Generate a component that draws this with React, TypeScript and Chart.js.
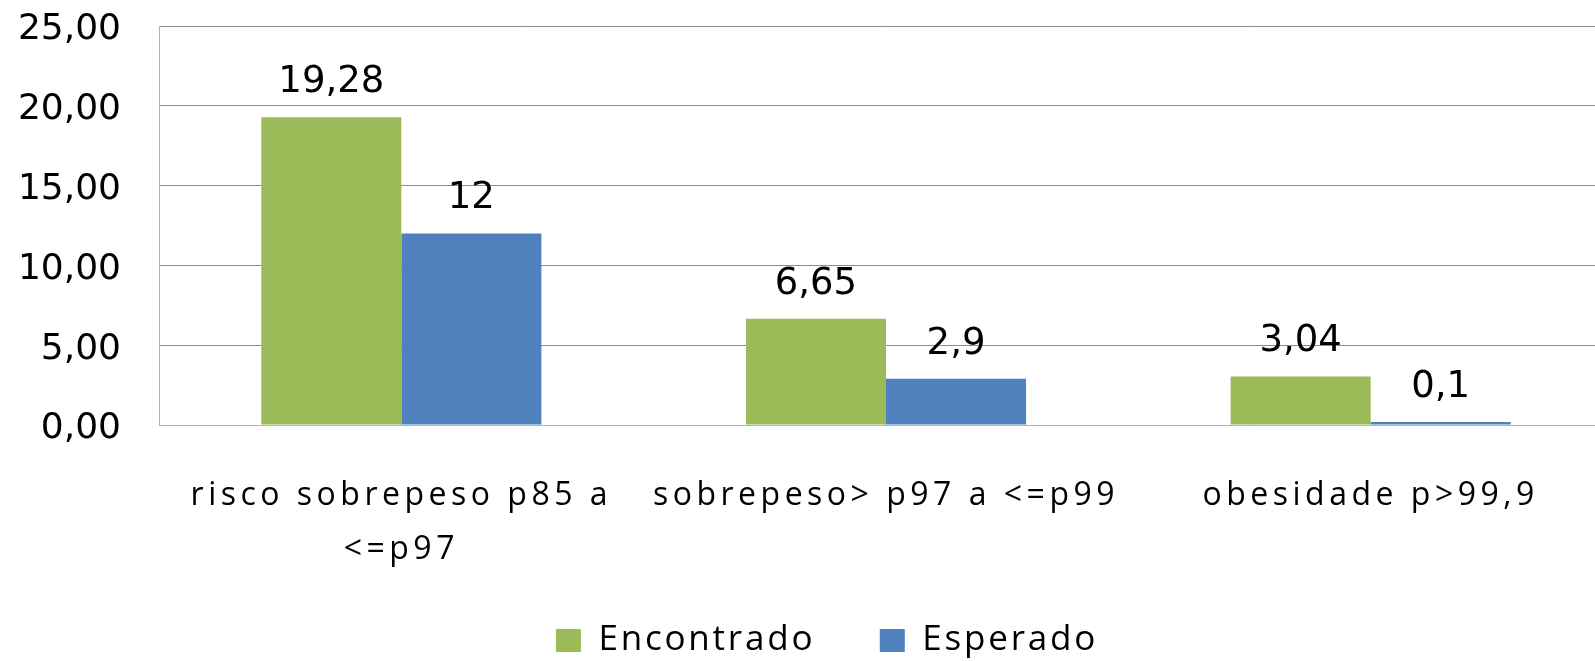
import React, { useEffect, useRef } from "react";
import { Chart, registerables } from "chart.js";

Chart.register(...registerables);

const categories: (string | string[])[] = [
  ["risco sobrepeso p85 a", "<=p97"],
  "sobrepeso> p97 a <=p99",
  "obesidade p>99,9",
];
const encontrado = [19.28, 6.65, 3.04];
const esperado = [12, 2.9, 0.1];
const encontradoLabels = ["19,28", "6,65", "3,04"];
const esperadoLabels = ["12", "2,9", "0,1"];
const yMin = 0;
const yMax = 25;
const yStep = 5;

const LEGEND_SPACING = "2.8px";

// a scale's labels get their own letter spacing and are not clipped to the axis box
function withSpacing(scale: any, spacing: string) {
  if (scale.__spaced) return;
  scale.__spaced = true;
  scale._computeLabelArea = () => undefined;
  const orig = scale.drawLabels;
  scale.drawLabels = function (area: any) {
    const ctx = this.ctx;
    const prev = ctx.letterSpacing;
    ctx.letterSpacing = spacing;
    orig.call(this, area);
    ctx.letterSpacing = prev;
  };
}

const valueLabelPlugin = {
  id: "valueLabels",
  beforeLayout(chart: any) {
    chart.ctx.letterSpacing = LEGEND_SPACING;
  },
  afterLayout(chart: any) {
    chart.ctx.letterSpacing = "0px";
  },
  beforeDraw(chart: any) {
    chart.ctx.letterSpacing = LEGEND_SPACING;
  },
  afterDatasetsDraw(chart: any) {
    const ctx = chart.ctx;
    const sets = [encontradoLabels, esperadoLabels];
    ctx.save();
    ctx.letterSpacing = "0px";
    ctx.font = '37px "DejaVu Sans"';
    ctx.fillStyle = "#000000";
    ctx.textAlign = "center";
    ctx.textBaseline = "alphabetic";
    chart.data.datasets.forEach((_: any, di: number) => {
      const meta = chart.getDatasetMeta(di);
      meta.data.forEach((el: any, i: number) => {
        ctx.fillText(sets[di][i], el.x, el.y - 25);
      });
    });
    ctx.restore();
  },
  afterDraw(chart: any) {
    chart.ctx.letterSpacing = "0px";
  },
};

export default function App() {
  const ref = useRef<HTMLCanvasElement | null>(null);
  useEffect(() => {
    if (!ref.current) return;
    const chart = new Chart(ref.current, {
      type: "bar",
      data: {
        labels: categories,
        datasets: [
          {
            label: "Encontrado",
            data: encontrado,
            backgroundColor: "#9BBB59",
            borderWidth: 0,
          },
          {
            label: "Esperado",
            data: esperado,
            backgroundColor: "#4F81BD",
            borderWidth: 0,
            minBarLength: 3,
          },
        ],
      },
      options: {
        animation: false,
        responsive: true,
        maintainAspectRatio: false,
        layout: { padding: { top: 26, right: 0, left: 41, bottom: 0 } },
        datasets: {
          bar: { categoryPercentage: 0.578, barPercentage: 1.0 },
        },
        plugins: {
          tooltip: { enabled: false },
          legend: {
            position: "bottom",
            labels: {
              boxWidth: 25,
              boxHeight: 23,
              padding: 64.5,
              color: "#000000",
              font: { family: '"Open Sans"', size: 35 },
            },
          },
        },
        scales: {
          x: {
            grid: { display: false, drawTicks: false },
            border: { display: true, color: "#b3b3b3", width: 1 },
            ticks: {
              color: "#000000",
              padding: 44,
              maxRotation: 0,
              autoSkip: false,
              font: {
                family: '"Open Sans"',
                size: 32,
                lineHeight: 1.6875,
              },
            },
            afterFit: (scale: any) => {
              scale.height = 133.5;
              withSpacing(scale, "4.5px");
            },
          },
          y: {
            min: yMin,
            max: yMax,
            grid: { color: "#8c8c8c", drawTicks: false, lineWidth: 1 },
            border: { display: true, color: "#b3b3b3", width: 1 },
            ticks: {
              stepSize: yStep,
              padding: 38,
              labelOffset: 4,
              color: "#000000",
              font: { family: '"DejaVu Sans"', size: 36 },
              callback: (v: any) => Number(v).toFixed(2).replace(".", ","),
            },
            afterFit: (scale: any) => {
              scale.width = 118;
              scale.paddingTop = 0;
              scale.paddingBottom = 0;
              withSpacing(scale, "0px");
            },
          },
        },
      },
      plugins: [valueLabelPlugin],
    });
    return () => chart.destroy();
  }, []);

  return (
    <div
      style={{
        position: "fixed",
        left: 0,
        top: 0,
        width: 1595,
        height: 661,
        overflow: "hidden",
        background: "#ffffff",
      }}
    >
      <div style={{ position: "absolute", left: 0, top: 0, width: 1613, height: 668 }}>
        <canvas ref={ref} />
      </div>
    </div>
  );
}
